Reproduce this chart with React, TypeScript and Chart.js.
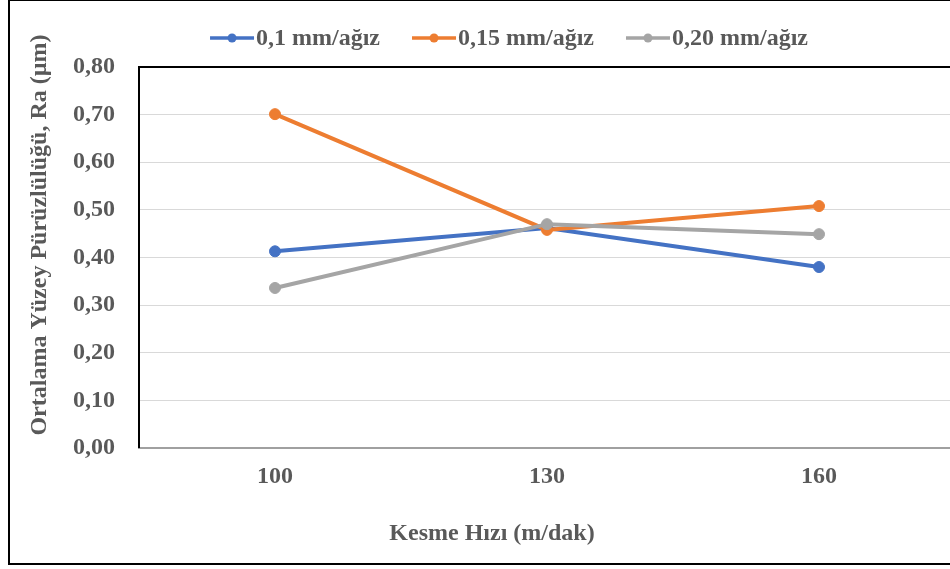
import React, { useEffect, useRef } from 'react';
import { Chart, registerables } from 'chart.js';

Chart.register(...registerables);

const categories = ['100', '130', '160'];
const seriesNames = ['0,1 mm/ağız', '0,15 mm/ağız', '0,20 mm/ağız'];
const feed010 = [0.413, 0.462, 0.38];
const feed015 = [0.701, 0.458, 0.508];
const feed020 = [0.336, 0.47, 0.449];
const seriesColors = ['#4472C4', '#ED7D31', '#A5A5A5'];
const yTitle = 'Ortalama Yüzey Pürüzlülüğü, Ra (µm)';
const xTitle = 'Kesme Hızı (m/dak)';

const FONT = '"Liberation Serif", "Times New Roman", serif';
const TEXT_COLOR = '#595959';

const framePlugin = {
  id: 'frameAndLegend',
  beforeDatasetsDraw(chart: any) {
    const { ctx, chartArea: a } = chart;
    ctx.save();
    ctx.strokeStyle = '#000';
    ctx.lineWidth = 2;
    ctx.beginPath();
    ctx.moveTo(a.left, a.bottom);
    ctx.lineTo(a.left, a.top);
    ctx.lineTo(a.right, a.top);
    ctx.lineTo(a.right, a.bottom);
    ctx.stroke();
    ctx.restore();
  },
  afterDraw(chart: any) {
    const { ctx } = chart;
    ctx.save();
    ctx.font = `bold 24px ${FONT}`;
    // legend
    const widths = seriesNames.map((n) => ctx.measureText(n).width);
    const lineLen = 44;
    const gapText = 2;
    const gapItem = 32;
    const total =
      widths.reduce((s: number, w: number) => s + lineLen + gapText + w, 0) + gapItem * (seriesNames.length - 1);
    let x = 499 - total / 2;
    const y = 37;
    seriesNames.forEach((name, i) => {
      ctx.strokeStyle = seriesColors[i];
      ctx.fillStyle = seriesColors[i];
      ctx.lineWidth = 3.5;
      ctx.beginPath();
      ctx.moveTo(x, y);
      ctx.lineTo(x + lineLen, y);
      ctx.stroke();
      ctx.beginPath();
      ctx.arc(x + lineLen / 2, y, 4.5, 0, Math.PI * 2);
      ctx.fill();
      ctx.fillStyle = TEXT_COLOR;
      ctx.textAlign = 'left';
      ctx.textBaseline = 'middle';
      ctx.fillText(name, x + lineLen + gapText, y + 1);
      x += lineLen + gapText + widths[i] + gapItem;
    });
    // x axis title
    ctx.fillStyle = TEXT_COLOR;
    ctx.textAlign = 'center';
    ctx.textBaseline = 'middle';
    ctx.fillText(xTitle, 482, 533);
    // y axis title
    ctx.translate(29.5, 234);
    ctx.rotate(-Math.PI / 2);
    ctx.textAlign = 'center';
    ctx.textBaseline = 'middle';
    ctx.fillStyle = TEXT_COLOR;
    ctx.fillText(yTitle, 0, 0);
    ctx.restore();
  },
};

export default function App() {
  const ref = useRef<HTMLCanvasElement>(null);

  useEffect(() => {
    const chart = new Chart(ref.current as HTMLCanvasElement, {
      type: 'line',
      data: {
        labels: categories,
        datasets: [feed010, feed015, feed020].map((d, i) => ({
          label: seriesNames[i],
          data: d,
          borderColor: seriesColors[i],
          backgroundColor: seriesColors[i],
          pointBackgroundColor: seriesColors[i],
          pointBorderColor: seriesColors[i],
          borderWidth: 4,
          pointRadius: 5.5,
          pointBorderWidth: 1,
          tension: 0,
          fill: false,
          order: 3 - i,
        })),
      },
      options: {
        responsive: false,
        animation: false,
        devicePixelRatio: 1,
        layout: { padding: { top: 66, right: 27, bottom: 15, left: 0 } },
        plugins: {
          legend: { display: false },
          tooltip: { enabled: false },
          title: { display: false },
        },
        scales: {
          x: {
            type: 'category',
            offset: true,
            grid: { display: false, drawTicks: false },
            border: { display: true, color: '#A0A0A0', width: 2 },
            ticks: {
              padding: 14,
              color: TEXT_COLOR,
              font: { family: FONT, size: 24, weight: 'bold' },
              maxRotation: 0,
            },
            title: { display: false },
            afterFit(scale: any) {
              scale.height = 100;
            },
          },
          y: {
            min: 0,
            max: 0.8,
            grid: { color: '#D9D9D9', lineWidth: 1, drawTicks: false },
            border: { display: false },
            ticks: {
              stepSize: 0.1,
              padding: 24,
              color: TEXT_COLOR,
              font: { family: FONT, size: 24, weight: 'bold' },
              callback: (v: any) => Number(v).toFixed(2).replace('.', ','),
            },
            afterFit(scale: any) {
              scale.width = 129;
            },
          },
        },
      },
      plugins: [framePlugin],
    } as any);
    return () => chart.destroy();
  }, []);

  return (
    <div
      style={{
        position: 'fixed',
        left: 0,
        top: 0,
        width: '100vw',
        height: '100vh',
        overflow: 'hidden',
        background: '#fff',
      }}
    >
      <div
        style={{
          position: 'absolute',
          left: 8,
          top: -1,
          width: 976,
          height: 566,
          border: '2px solid #000',
          boxSizing: 'border-box',
        }}
      >
        <canvas ref={ref} width={972} height={562} style={{ display: 'block' }} />
      </div>
    </div>
  );
}
